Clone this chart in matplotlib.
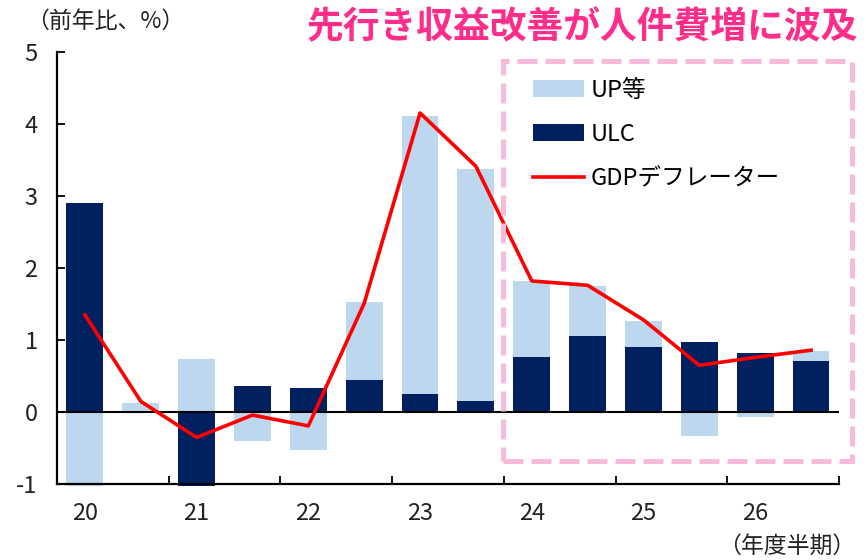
import matplotlib.pyplot as plt
from matplotlib.patches import Rectangle
import numpy as np

plt.rcParams['font.family'] = ['Noto Sans CJK JP', 'DejaVu Sans']
plt.rcParams['axes.unicode_minus'] = False

# 年度半期 (20上期 ... 26下期)
periods = ["20H1", "20H2", "21H1", "21H2", "22H1", "22H2", "23H1", "23H2",
           "24H1", "24H2", "25H1", "25H2", "26H1", "26H2"]
year_labels = ["20", "21", "22", "23", "24", "25", "26"]
ulc = [2.90, 0.00, -1.03, 0.36, 0.33, 0.45, 0.25, 0.16, 0.76, 1.06, 0.91, 0.98, 0.82, 0.71]
up = [-1.03, 0.13, 0.74, -0.40, -0.53, 1.08, 3.86, 3.21, 1.06, 0.69, 0.36, -0.33, -0.07, 0.14]
gdp = [1.35, 0.15, -0.35, -0.04, -0.19, 1.51, 4.15, 3.41, 1.82, 1.76, 1.28, 0.65, 0.76, 0.86]

light = "#BDD7EE"
navy = "#002060"
pink = "#F9B9D9"

fig = plt.figure(figsize=(8.66, 5.60), dpi=100)
ax = fig.add_axes([0.0658, 0.1352, 0.903, 0.7725])

x = np.arange(len(periods))
ulc = np.array(ulc)
up = np.array(up)
# 積み上げ（正負別）
up_bottom = np.where(np.sign(up) == np.sign(ulc), ulc, 0)
b_ulc = ax.bar(x, ulc, width=0.66, color=navy, zorder=2, clip_on=False)
b_up = ax.bar(x, up, width=0.66, bottom=up_bottom, color=light, zorder=2, clip_on=False)
l_gdp, = ax.plot(x, gdp, color="#FF0000", lw=2.6, zorder=4)
ax.axhline(0, color="black", lw=1.5, zorder=3)

ax.set_xlim(-0.5, len(periods) - 0.5)
ax.set_ylim(-1, 5)
ax.set_yticks(range(-1, 6))
ax.set_xticks(x[::2])
ax.set_xticklabels(year_labels)
ax.set_xticks(np.arange(-0.5, len(periods), 2), minor=True)
ax.tick_params(axis="x", which="major", length=0, pad=13, labelsize=17, colors="#222222")
ax.tick_params(axis="x", which="minor", direction="in", length=6, width=1.3)
ax.tick_params(axis="y", direction="in", length=6, width=1.3, pad=14, labelsize=17,
               colors="black", labelcolor="#222222")
ax.spines[["top", "right"]].set_visible(False)
ax.spines[["left", "bottom"]].set_linewidth(1.6)

ax.legend([b_up, b_ulc, l_gdp], ["UP等", "ULC", "GDPデフレーター"],
          loc="upper left", bbox_to_anchor=(0.581, 0.987), frameon=False,
          fontsize=17, handlelength=2.16, handletextpad=0.3, labelspacing=0.9)

fig.text(0.030, 0.962, "（前年比、%）", fontsize=16.5, color="#222222", va="center")
fig.text(0.988, 0.025, "（年度半期）", fontsize=16.5, color="#222222", va="center", ha="right")
fig.text(0.991, 0.95, "先行き収益改善が人件費増に波及", fontsize=26.5, color="#FF2D8A",
         ha="right", va="center", fontweight="bold")

box = Rectangle((0.581, 0.177), 0.403, 0.714, transform=fig.transFigure, fill=False,
                edgecolor=pink, lw=3.6, linestyle=(0, (4, 1.6)), zorder=5)
fig.patches.append(box)

fig.savefig("out.png", dpi=100)
